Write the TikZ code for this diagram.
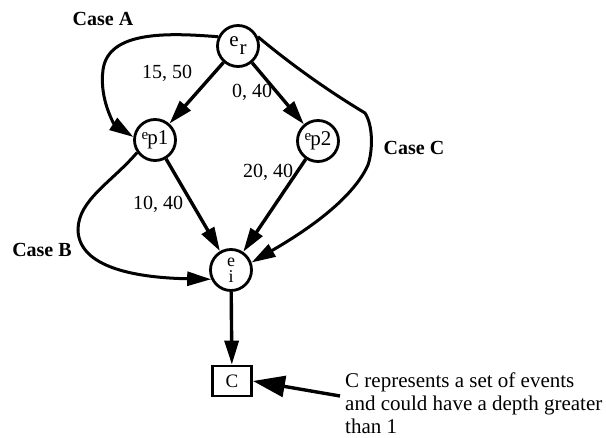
\documentclass[tikz,border=0pt]{standalone}
\usepackage{fontspec}
\setmainfont{Liberation Serif}
\usetikzlibrary{arrows.meta}

\tikzset{
  event/.style={draw, circle, line width=2.8pt, minimum size=41pt, inner sep=0pt,
    font=\fontsize{21}{21}\selectfont},
  setbox/.style={draw, rectangle, line width=2.8pt, minimum width=39pt,
    minimum height=30pt, inner sep=0pt, font=\fontsize{19}{20}\selectfont},
  edge/.style={line width=3.4pt, -{Triangle[length=24pt,width=14pt]}},
  casepath/.style={line width=3pt, -{Triangle[length=24pt,width=14pt]}},
  pointer/.style={line width=3.4pt, -{Triangle[length=32pt,width=21pt]}},
  weight/.style={font=\fontsize{20}{22}\selectfont},
  caselabel/.style={font=\bfseries\fontsize{20}{22}\selectfont},
  note/.style={align=left, inner sep=0pt, font=\fontsize{21}{23}\selectfont},
}

\begin{document}
\begin{tikzpicture}[x=1pt, y=-1pt]
  \useasboundingbox (0,0) rectangle (606,438);

  % events
  \node[event] (er)  at (238,46)  {e\kern1pt\raisebox{-8pt}{r}};
  \node[event] (ep1) at (155,140) {\raisebox{5pt}{\fontsize{15}{15}\selectfont e}\kern-1pt p1};
  \node[event] (ep2) at (318,141) {\raisebox{5pt}{\fontsize{15}{15}\selectfont e}\kern-1pt p2};
  \node[event] (ei)  at (231,270)
    {\shortstack{\fontsize{18}{18}\selectfont e\\[1pt]\fontsize{18}{18}\selectfont i}};
  \node[setbox] (c)  at (232,381) {C};

  % direct links with their weights
  \draw[edge] (er) -- (ep1);
  \draw[edge] (er) -- (ep2);
  \draw[edge] (ep1) -- (ei);
  \draw[edge] (ep2) -- (ei);
  \draw[edge] (ei) -- (c);

  \node[weight] (w1) at (167,73)  {15, 50};
  \node[weight] (w2) at (252,92)  {0, 40};
  \node[weight] (w3) at (268,172) {20, 40};
  \node[weight] (w4) at (158,204) {10, 40};

  % the three cases
  \draw[casepath] (er.155) .. controls (170,33) and (108,30) .. (103,70)
    .. controls (99,100) and (115,125) .. (ep1.172);
  \draw[casepath] (ep1.215) .. controls (112,182) and (78,200) .. (78,230)
    .. controls (79,272) and (150,278) .. (ei.205);
  \draw[casepath] (er.25) .. controls (300,72) and (340,98) .. (365,113)
    .. controls (373,125) and (373,150) .. (368,165)
    .. controls (350,205) and (290,240) .. (ei.20);

  \node[caselabel] (casea) at (103,19)  {Case A};
  \node[caselabel] (caseb) at (42,250)  {Case B};
  \node[caselabel] (casec) at (414,148) {Case C};

  % what C stands for
  \node[note, anchor=north west] (desc) at (345,373)
    {C represents a set of events\\and could have a depth greater\\than 1};
  \coordinate (tail) at (340,396);
  \draw[pointer] (tail) -- (c.east);
\end{tikzpicture}
\end{document}
